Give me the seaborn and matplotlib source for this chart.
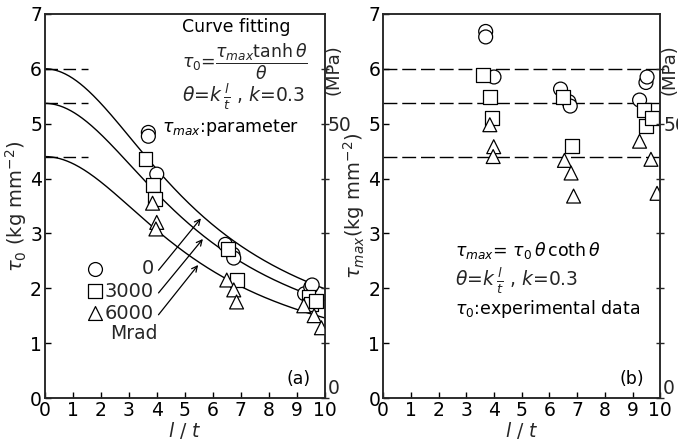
import numpy as np
import pandas as pd
import matplotlib.pyplot as plt
import seaborn as sns

sns.set_style("ticks")
plt.rcParams['font.family'] = ['DejaVu Sans']
plt.rcParams['mathtext.fontset'] = 'dejavusans'

# --- data ---
doses = [0, 3000, 6000]          # Mrad
tau_max_fit = [6.0, 5.37, 4.4]   # fitted tau_max (kg/mm2)
k = 0.3

# (a) tau_0 experimental
a_x = {0: [3.7, 3.7, 4.0, 6.45, 6.72, 6.75, 9.28, 9.5, 9.55],
       3000: [3.6, 3.88, 3.93, 6.55, 6.85, 9.42, 9.5, 9.7],
       6000: [3.85, 4.0, 3.97, 6.5, 6.75, 6.85, 9.25, 9.62, 9.88]}
a_y = {0: [4.84, 4.77, 4.08, 2.8, 2.62, 2.55, 1.9, 2.02, 2.06],
       3000: [4.35, 3.88, 3.62, 2.72, 2.15, 1.84, 1.72, 1.76],
       6000: [3.55, 3.2, 3.08, 2.15, 1.97, 1.75, 1.68, 1.5, 1.28]}

# (b) tau_max from experimental data
b_x = {0: [3.7, 3.7, 4.0, 6.4, 6.7, 6.75, 9.25, 9.48, 9.52],
       3000: [3.6, 3.85, 3.93, 6.5, 6.82, 9.42, 9.48, 9.7],
       6000: [3.85, 3.99, 3.97, 6.54, 6.78, 6.87, 9.25, 9.66, 9.88]}
b_y = {0: [6.68, 6.58, 5.85, 5.63, 5.4, 5.32, 5.43, 5.75, 5.85],
       3000: [5.89, 5.48, 5.1, 5.48, 4.6, 5.25, 4.95, 5.1],
       6000: [4.98, 4.58, 4.4, 4.33, 4.1, 3.68, 4.68, 4.35, 3.73]}

def to_frame(xs, ys):
    rows = []
    for d in doses:
        for x, y in zip(xs[d], ys[d]):
            rows.append({'dose': d, 'lt': x, 'tau': y})
    return pd.DataFrame(rows)

df_a = to_frame(a_x, a_y)
df_b = to_frame(b_x, b_y)

markers = {0: 'o', 3000: 's', 6000: '^'}
mk_kw = dict(s=100, facecolor='white', edgecolor='black', linewidth=0.9, zorder=3)

fig = plt.figure(figsize=(6.78, 4.41), dpi=100)
ax_a = fig.add_axes([0.066, 0.0975, 0.413, 0.871])
ax_b = fig.add_axes([0.565, 0.0975, 0.409, 0.871])

# fitted curves tau0 = tau_max tanh(theta)/theta
lt = np.linspace(1e-3, 10, 300)
theta = k * lt
def fit(tm, x):
    th = k * x
    return tm * np.tanh(th) / th

for tm in tau_max_fit:
    sns.lineplot(x=lt, y=tm * np.tanh(theta) / theta, ax=ax_a, color='black', lw=1.0)
    ax_a.plot([0, 1.55], [tm, tm], color='black', lw=1.0, dashes=(9, 4))
    ax_b.axhline(tm, color='black', lw=1.0, dashes=(10, 3.5))

for ax, df in [(ax_a, df_a), (ax_b, df_b)]:
    sns.scatterplot(data=df, x='lt', y='tau', style='dose', markers=markers,
                    ax=ax, legend=False, **mk_kw)

for ax in (ax_a, ax_b):
    ax.set_xlim(0, 10)
    ax.set_ylim(0, 7)
    ax.set_xticks(range(0, 11))
    ax.set_yticks(range(0, 8))
    ax.tick_params(direction='in', length=4, width=1, labelsize=13.5, pad=2,
                   colors='black')
    ax.tick_params(axis='y', pad=2)
    for sp in ax.spines.values():
        sp.set_visible(True)
        sp.set_linewidth(1.1)
    ax.set_xlabel(r"$l\ /\ t$", fontsize=13.5, labelpad=0)

    # secondary MPa axis
    ax2 = ax.twinx()
    ax2.set_ylim(0, 70)
    ax2.set_yticks(range(0, 70, 10))
    ax2.set_yticklabels(['0', '', '', '', '', '50', ''])
    ax2.tick_params(direction='inout', length=6, width=1, labelsize=13.5, pad=-1)
    ax2.get_yticklabels()[0].set_va('bottom')
    ax2.set_ylabel('(MPa)', fontsize=13, labelpad=0)
    ax2.yaxis.set_label_coords(1.0, 0.855)
    for sp in ax2.spines.values():
        sp.set_linewidth(1.1)

ax_a.set_ylabel(r"$\tau_0$ (kg mm$^{-2}$)", fontsize=14, labelpad=1)
ax_b.set_ylabel(r"$\tau_{max}$(kg mm$^{-2}$)", fontsize=14, labelpad=1)

# panel (a) annotations
txt = dict(fontsize=12.5, color='black', transform=ax_a.transAxes)
ax_a.text(0.49, 0.965, 'Curve fitting', va='center', **txt)
ax_a.text(0.49, 0.875, r"$\tau_0$=$\dfrac{\tau_{max}\tanh\theta}{\theta}$", va='center',
          fontsize=12.5, transform=ax_a.transAxes)
ax_a.text(0.49, 0.785, r"$\theta$=$k\,\frac{l}{t}$ , $k$=0.3", va='center',
          fontsize=13.5, transform=ax_a.transAxes)
ax_a.text(0.42, 0.705, r"$\tau_{max}$:parameter", va='center', **txt)
ax_a.text(0.95, 0.05, '(a)', ha='right', va='center', **txt)

# legend keys and arrows to the curves
key_y = [0.337, 0.278, 0.221]
lab_x = 0.39
arrow_x = [5.64, 5.71, 5.54]
for d, ky, tm, ex in zip(doses, key_y, tau_max_fit, arrow_x):
    ax_a.scatter([0.18], [ky], marker=markers[d], transform=ax_a.transAxes,
                 clip_on=False, **mk_kw)
    ax_a.text(lab_x, ky, str(d), ha='right', va='center', fontsize=14,
              transform=ax_a.transAxes)
    ax_a.annotate('', xy=(ex, fit(tm, ex)), xycoords='data',
                  xytext=(lab_x + 0.01, ky - 0.01), textcoords='axes fraction',
                  arrowprops=dict(arrowstyle='->', color='black', lw=0.9))
ax_a.text(0.32, 0.168, 'Mrad', ha='center', va='center', fontsize=13.5,
          transform=ax_a.transAxes)

# panel (b) annotations
txtb = dict(fontsize=12.5, color='black', transform=ax_b.transAxes)
ax_b.text(0.26, 0.385, r"$\tau_{max}$= $\tau_0\,\theta\,$coth$\,\theta$", va='center', **txtb)
ax_b.text(0.26, 0.305, r"$\theta$=$k\,\frac{l}{t}$ , $k$=0.3", va='center',
          fontsize=13.5, transform=ax_b.transAxes)
ax_b.text(0.26, 0.232, r"$\tau_0$:experimental data", va='center', **txtb)
ax_b.text(0.94, 0.05, '(b)', ha='right', va='center', **txtb)

fig.savefig('out.png', dpi=100)
